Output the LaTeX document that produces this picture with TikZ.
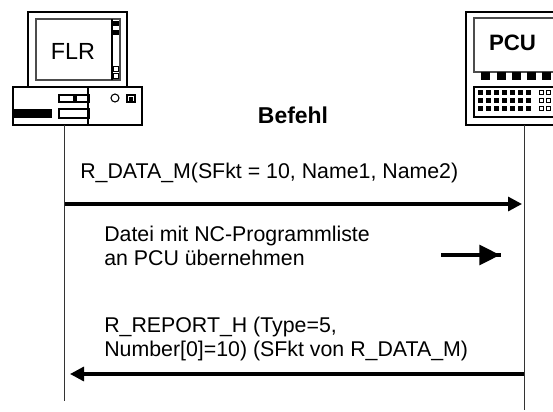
\documentclass[tikz,border=0pt]{standalone}
\usepackage{fontspec}
\setmainfont{Liberation Sans}
\usepackage{xcolor}
\usepackage{tikz}
\usetikzlibrary{arrows.meta}
\definecolor{frame}{HTML}{000000}
\definecolor{life}{HTML}{333333}
\tikzset{
  case/.style={draw=frame, line width=1.4pt},
  thin case/.style={draw=frame, line width=0.8pt},
  inner case/.style={draw=frame!70, line width=0.9pt},
  small case/.style={draw=frame, line width=0.5pt},
  led/.style={fill=frame},
  lifeline/.style={draw=life, line width=0.7pt},
  bar/.style={draw=frame, line width=2.4pt},
  msg/.style={bar, -{Triangle[length=10.5pt,width=10.5pt]}},
  bigmsg/.style={bar, -{Triangle[length=15.5pt,width=15pt]}},
  lab/.style={font=\fontsize{16}{17.6}\selectfont, anchor=base west, align=left, inner sep=0pt},
  every node/.style={text=black}
}
\begin{document}
\begin{tikzpicture}[x=0.75pt,y=-0.75pt]
  \useasboundingbox (0,0) rectangle (553,411);

  % FLR computer
  \draw[case] (28,12) rectangle (127,87);
  \draw[inner case] (36,19) rectangle (120,80);
  \draw[thin case] (112,19) -- (112,80);
  \fill[led] (113,21) rectangle (119,26);
  \fill[led] (113,30) rectangle (119,35);
  \draw[small case] (113,66) rectangle (118,71);
  \draw[small case] (113,73) rectangle (118,78);
  \draw[case] (13,87) rectangle (142,125);
  \draw[thin case] (88,87) -- (88,125);
  \draw[thin case] (59,95) rectangle (89,102);
  \fill[led] (73,96) rectangle (77,102);
  \draw[thin case] (59,109) rectangle (89,118);
  \fill[led] (14,109) rectangle (52,118);
  \draw[thin case] (115,98) circle (4);
  \draw[thin case] (127,95) rectangle (135,102);
  \fill[led] (129,97) rectangle (133,101);
  \node[font=\fontsize{17.5}{17.5}\selectfont] (flr) at (73,51) {FLR};

  % PCU panel, cut off by the page edge
  \draw[case] (553,12) -- (466,12) -- (466,125) -- (553,125);
  \draw[inner case] (553,18) -- (474,18) -- (474,72) -- (553,72);
  \node[font=\bfseries\fontsize{16.7}{16.7}\selectfont] (pcu) at (512.5,43) {PCU};
  \foreach \x in {485.5,501.5,516.5,531.5,546.5}
    \fill[led] (\x-4.5,72) rectangle (\x+4.5,80);
  \draw[case] (553,87) -- (474,87) -- (474,117) -- (553,117);
  \foreach \y in {92,100,108}{
    \foreach \x in {480,488,496,504,512,520,528}
      \fill[led] (\x-2.5,\y-2.5) rectangle (\x+2.5,\y+2.5);
    \foreach \x in {541,548}
      \draw[small case] (\x-2,\y-2) rectangle (\x+2,\y+2);
  }

  % lifelines
  \coordinate (flrtop) at (64.5,125);
  \coordinate (flrend) at (64.5,401);
  \coordinate (pcutop) at (524,125);
  \coordinate (pcuend) at (524,410);
  \draw[lifeline] (flrtop) -- (flrend);
  \draw[lifeline] (pcutop) -- (pcuend);

  % messages
  \coordinate (m1a) at (65,204);
  \coordinate (m1b) at (522,204);
  \coordinate (m2a) at (441,255);
  \coordinate (m2b) at (500,255);
  \coordinate (m2c) at (501,255);
  \coordinate (m3a) at (524,374);
  \coordinate (m3b) at (70,374);
  \draw[msg] (m1a) -- (m1b);
  \draw[bigmsg] (m2a) -- (m2b);
  \draw[bar] (m2a) -- (m2c);
  \draw[msg] (m3a) -- (m3b);

  \node[font=\bfseries\fontsize{17.2}{17.2}\selectfont,anchor=base] (title) at (293,123) {Befehl};
  \node[lab] (txt1) at (80,178) {R\_DATA\_M(SFkt = 10, Name1, Name2)};
  \node[lab] (txt2) at (104,265) {Datei mit NC-Programmliste\\an PCU übernehmen};
  \node[lab] (txt3) at (104,356) {R\_REPORT\_H (Type=5,\\Number[0]=10) (SFkt von R\_DATA\_M)};
\end{tikzpicture}
\end{document}
